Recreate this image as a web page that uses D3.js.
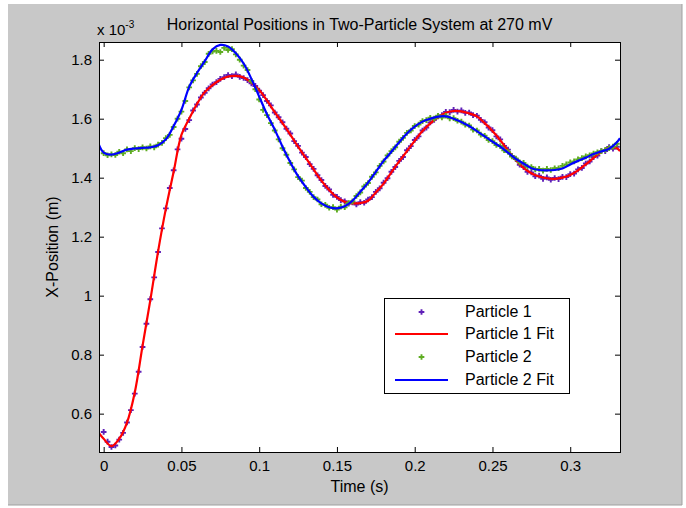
<!DOCTYPE html>
<html>
<head>
<meta charset="utf-8">
<script src="https://cdn.jsdelivr.net/npm/d3@7"></script>
<style>
  body { margin: 0; background: #fff; }
  text { font-family: "Liberation Sans", Arial, sans-serif; }
</style>
</head>
<body>
<div id="chart"></div>
<script>
// fitted curves, sampled times (s) and x-position (x 10^-3 m)
const fitTime = [-0.003, 0, 0.005, 0.01, 0.015, 0.02, 0.025, 0.03, 0.035, 0.04, 0.045, 0.05, 0.055, 0.06, 0.065,
  0.07, 0.075, 0.08, 0.085, 0.09, 0.095, 0.1, 0.105, 0.11, 0.115, 0.12, 0.125, 0.13, 0.135, 0.14, 0.145,
  0.15, 0.155, 0.16, 0.165, 0.17, 0.175, 0.18, 0.185, 0.19, 0.195, 0.2, 0.205, 0.21, 0.215, 0.22, 0.225,
  0.23, 0.235, 0.24, 0.245, 0.25, 0.255, 0.26, 0.265, 0.27, 0.275, 0.28, 0.285, 0.29, 0.295, 0.3, 0.305,
  0.31, 0.315, 0.32, 0.325, 0.33, 0.332];

const fit1 = [0.534, 0.515, 0.490, 0.515, 0.570, 0.672, 0.830, 0.985, 1.150, 1.295, 1.420, 1.545, 1.600, 1.650, 1.690,
  1.714, 1.732, 1.743, 1.745, 1.740, 1.722, 1.697, 1.662, 1.622, 1.585, 1.546, 1.505, 1.467, 1.428, 1.390, 1.358,
  1.333, 1.318, 1.313, 1.314, 1.322, 1.350, 1.380, 1.418, 1.455, 1.490, 1.525, 1.558, 1.584, 1.605, 1.620, 1.626,
  1.625, 1.618, 1.608, 1.585, 1.558, 1.527, 1.492, 1.460, 1.433, 1.415, 1.404, 1.398, 1.396, 1.400, 1.409, 1.425,
  1.445, 1.467, 1.488, 1.502, 1.500, 1.490];

const fit2 = [1.511, 1.485, 1.478, 1.485, 1.495, 1.499, 1.501, 1.503, 1.510, 1.530, 1.575, 1.630, 1.708, 1.755, 1.795,
  1.835, 1.850, 1.845, 1.822, 1.787, 1.735, 1.675, 1.615, 1.563, 1.505, 1.452, 1.405, 1.368, 1.335, 1.313, 1.300,
  1.296, 1.303, 1.322, 1.352, 1.383, 1.420, 1.457, 1.488, 1.520, 1.550, 1.573, 1.590, 1.600, 1.607, 1.608, 1.600,
  1.589, 1.575, 1.558, 1.540, 1.522, 1.505, 1.485, 1.464, 1.448, 1.432, 1.426, 1.425, 1.426, 1.431, 1.445, 1.457,
  1.468, 1.480, 1.489, 1.498, 1.520, 1.534];

// measured points, one every 2.5 ms from t = 0
const sampleStep = 0.0025;
const particle1 = [
  0.538, 0.505, 0.487, 0.492, 0.512, 0.535, 0.570, 0.612, 0.668, 0.742, 0.826, 0.905, 0.988, 1.062, 1.148, 1.228,
  1.296, 1.365, 1.425, 1.496, 1.532, 1.565, 1.595, 1.628, 1.648, 1.672, 1.688, 1.703, 1.716, 1.724, 1.735, 1.741,
  1.748, 1.744, 1.750, 1.742, 1.738, 1.731, 1.720, 1.711, 1.695, 1.680, 1.660, 1.645, 1.621, 1.605, 1.588, 1.566,
  1.550, 1.524, 1.508, 1.485, 1.470, 1.446, 1.430, 1.408, 1.392, 1.372, 1.360, 1.342, 1.335, 1.324, 1.320, 1.312,
  1.316, 1.309, 1.317, 1.315, 1.326, 1.334, 1.352, 1.364, 1.383, 1.398, 1.420, 1.436, 1.457, 1.470, 1.493, 1.507,
  1.528, 1.540, 1.560, 1.570, 1.587, 1.596, 1.608, 1.612, 1.623, 1.622, 1.630, 1.624, 1.628, 1.620, 1.621, 1.612,
  1.610, 1.596, 1.588, 1.570, 1.561, 1.540, 1.530, 1.508, 1.495, 1.474, 1.463, 1.444, 1.436, 1.420, 1.418, 1.405,
  1.407, 1.396, 1.401, 1.393, 1.399, 1.395, 1.403, 1.402, 1.412, 1.414, 1.428, 1.433, 1.448, 1.455, 1.470, 1.475,
  1.490, 1.490, 1.504, 1.498, 1.505];

const particle2 = [
  1.483, 1.476, 1.479, 1.477, 1.488, 1.483, 1.496, 1.490, 1.500, 1.497, 1.503, 1.499, 1.506, 1.503, 1.512, 1.518,
  1.534, 1.545, 1.572, 1.600, 1.624, 1.660, 1.706, 1.730, 1.752, 1.778, 1.792, 1.820, 1.828, 1.830, 1.826, 1.840,
  1.833, 1.836, 1.818, 1.800, 1.780, 1.765, 1.728, 1.700, 1.665, 1.630, 1.612, 1.585, 1.560, 1.530, 1.500, 1.478,
  1.450, 1.428, 1.402, 1.390, 1.365, 1.352, 1.334, 1.326, 1.310, 1.308, 1.298, 1.300, 1.292, 1.302, 1.300, 1.314,
  1.320, 1.338, 1.350, 1.370, 1.382, 1.403, 1.418, 1.440, 1.455, 1.475, 1.490, 1.503, 1.522, 1.535, 1.552, 1.560,
  1.575, 1.580, 1.592, 1.595, 1.603, 1.600, 1.610, 1.604, 1.610, 1.601, 1.602, 1.593, 1.590, 1.580, 1.577, 1.563,
  1.560, 1.546, 1.542, 1.528, 1.524, 1.511, 1.507, 1.493, 1.487, 1.472, 1.465, 1.452, 1.450, 1.438, 1.436, 1.428,
  1.430, 1.424, 1.430, 1.426, 1.432, 1.432, 1.440, 1.445, 1.452, 1.455, 1.462, 1.466, 1.472, 1.476, 1.482, 1.486,
  1.490, 1.494, 1.500, 1.505, 1.515];

const xTicks = [0, 0.05, 0.1, 0.15, 0.2, 0.25, 0.3];
const yTicks = [0.6, 0.8, 1, 1.2, 1.4, 1.6, 1.8];
const legendLabels = ["Particle 1", "Particle 1 Fit", "Particle 2", "Particle 2 Fit"];

const width = 686, height = 508;
const box = { left: 99, top: 42, right: 620, bottom: 452 };

const svg = d3.select("#chart").append("svg")
    .attr("width", width)
    .attr("height", height);

// figure background
svg.append("rect")
    .attr("x", 8).attr("y", 4)
    .attr("width", 674).attr("height", 501)
    .attr("fill", "#c8c8c8");
svg.append("path")
    .attr("d", "M682,4V505H8")
    .attr("fill", "none")
    .attr("stroke", "#a0a0a0");

const x = d3.scaleLinear().domain([-0.003, 0.332]).range([box.left, box.right]);
const y = d3.scaleLinear().domain([0.47, 1.86]).range([box.bottom, box.top]);

svg.append("rect")
    .attr("x", box.left).attr("y", box.top)
    .attr("width", box.right - box.left).attr("height", box.bottom - box.top)
    .attr("fill", "#fff");

svg.append("clipPath").attr("id", "clip")
    .append("rect")
    .attr("x", box.left).attr("y", box.top)
    .attr("width", box.right - box.left).attr("height", box.bottom - box.top);

const plot = svg.append("g").attr("clip-path", "url(#clip)");

const colors = { p1: "#6020b8", f1: "#ff0000", p2: "#5fad22", f2: "#0000ff" };

const line = d3.line()
    .x(d => x(d[0]))
    .y(d => y(d[1]))
    .curve(d3.curveCatmullRom);

const marker = d3.symbol().type(d3.symbolCross).size(18);

function drawPoints(values, color) {
    plot.append("g").selectAll("path")
        .data(values)
        .enter().append("path")
        .attr("transform", (d, i) => `translate(${x(i * sampleStep)},${y(d)})`)
        .attr("d", marker)
        .attr("fill", color);
}

function drawFit(values, color) {
    plot.append("path")
        .datum(values.map((v, i) => [fitTime[i], v]))
        .attr("fill", "none")
        .attr("stroke", color)
        .attr("stroke-width", 2.2)
        .attr("d", line);
}

drawPoints(particle1, colors.p1);
drawFit(fit1, colors.f1);
drawPoints(particle2, colors.p2);
drawFit(fit2, colors.f2);

// axes with inward ticks
const tickFont = "15px";
const labelFont = "16px";
const xAxis = svg.append("g")
    .attr("transform", `translate(0,${box.bottom})`)
    .call(d3.axisBottom(x).tickValues(xTicks).tickSize(-5).tickPadding(8).tickFormat(d3.format("~g")));
const xTop = svg.append("g")
    .attr("transform", `translate(0,${box.top})`)
    .call(d3.axisTop(x).tickValues(xTicks).tickSize(-5).tickFormat(""));
const yAxis = svg.append("g")
    .attr("transform", `translate(${box.left},0)`)
    .call(d3.axisLeft(y).tickValues(yTicks).tickSize(-5).tickPadding(7).tickFormat(d3.format("~g")));
const yRight = svg.append("g")
    .attr("transform", `translate(${box.right},0)`)
    .call(d3.axisRight(y).tickValues(yTicks).tickSize(-5).tickFormat(""));

[xAxis, xTop, yAxis, yRight].forEach(g => {
    g.select(".domain").remove();
    g.selectAll("line").attr("stroke", "#000");
    g.selectAll("text")
        .attr("fill", "#000")
        .style("font-size", tickFont)
        .style("font-family", '"Liberation Sans", Arial, sans-serif');
});

svg.append("rect")
    .attr("x", box.left + 0.5).attr("y", box.top + 0.5)
    .attr("width", box.right - box.left).attr("height", box.bottom - box.top)
    .attr("fill", "none")
    .attr("stroke", "#000");

// titles
svg.append("text")
    .attr("x", (box.left + box.right) / 2)
    .attr("y", 30)
    .attr("text-anchor", "middle")
    .style("font-size", labelFont)
    .text("Horizontal Positions in Two-Particle System at 270 mV");

const expo = svg.append("text")
    .attr("x", 97)
    .attr("y", 35)
    .style("font-size", tickFont)
    .text("x 10");
expo.append("tspan")
    .attr("dy", -7)
    .style("font-size", "10px")
    .text("-3");

svg.append("text")
    .attr("x", (box.left + box.right) / 2)
    .attr("y", 492)
    .attr("text-anchor", "middle")
    .style("font-size", labelFont)
    .text("Time (s)");

svg.append("text")
    .attr("transform", `translate(58,${(box.top + box.bottom) / 2}) rotate(-90)`)
    .attr("text-anchor", "middle")
    .style("font-size", labelFont)
    .text("X-Position (m)");

// legend
const legend = svg.append("g");
legend.append("rect")
    .attr("x", 384.5).attr("y", 298.5)
    .attr("width", 185).attr("height", 95)
    .attr("fill", "#fff")
    .attr("stroke", "#000");

const rowY = [312, 334, 357, 380];
const legendKind = ["p1", "f1", "p2", "f2"];
legendLabels.forEach((label, i) => {
    const kind = legendKind[i];
    if (kind[0] === "p") {
        legend.append("path")
            .attr("transform", `translate(421.5,${rowY[i]})`)
            .attr("d", marker)
            .attr("fill", colors[kind]);
    } else {
        legend.append("line")
            .attr("x1", 395).attr("x2", 448)
            .attr("y1", rowY[i]).attr("y2", rowY[i])
            .attr("stroke", colors[kind])
            .attr("stroke-width", 2.2);
    }
    legend.append("text")
        .attr("x", 465)
        .attr("y", rowY[i] + 5)
        .style("font-size", labelFont)
        .text(label);
});
</script>
</body>
</html>
